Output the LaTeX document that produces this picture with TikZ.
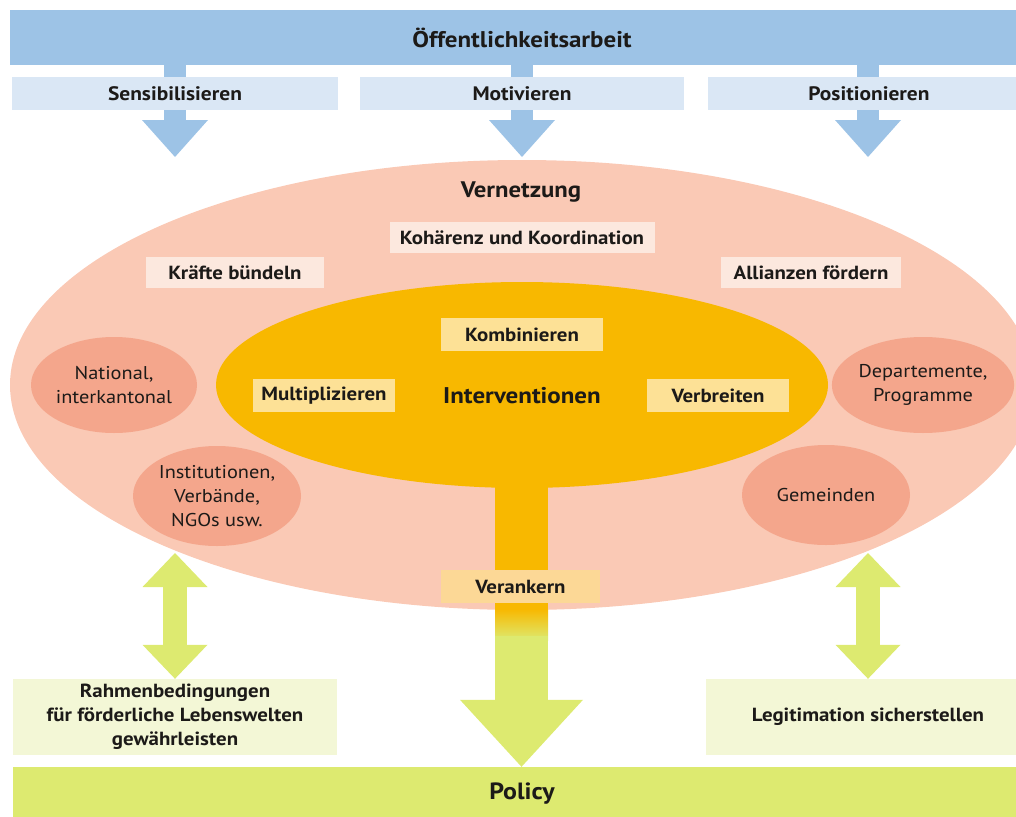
\documentclass[tikz,border=0pt]{standalone}
\usepackage{fontspec}
\setmainfont{PT Sans}[FakeStretch=1.1]
\usetikzlibrary{arrows.meta,shapes.geometric}
\definecolor{blueTop}{HTML}{9DC3E6}
\definecolor{blueLight}{HTML}{DAE7F5}
\definecolor{pinkBig}{HTML}{FAC9B5}
\definecolor{salmon}{HTML}{F4A68C}
\definecolor{pinkBox}{HTML}{FCE8DE}
\definecolor{orangeMain}{HTML}{F8B800}
\definecolor{yellowBox}{HTML}{FDE196}
\definecolor{verBox}{HTML}{FCD896}
\definecolor{greenMain}{HTML}{DDEA70}
\definecolor{greenLight}{HTML}{F3F7D6}
\definecolor{txt}{HTML}{1C1A18}
\tikzset{
  every node/.style={text=txt, inner sep=0pt},
  bar/.style={rectangle, minimum width=#1, minimum height=33pt},
  toplbl/.style={font=\bfseries\fontsize{19.5}{22}\selectfont},
  boxlbl/.style={font=\bfseries\fontsize{19}{22}\selectfont},
  elllbl/.style={ellipse, fill=salmon, align=center, font=\fontsize{18.5}{24}\selectfont},
  bluearrow/.style={draw=blueTop, line width=22pt, -{Triangle[length=37pt, width=66pt, line width=0pt]}},
  greendouble/.style={draw=greenMain, line width=24pt, {Triangle[length=34pt, width=65pt, line width=0pt]}-{Triangle[length=34pt, width=65pt, line width=0pt]}},
  bigarrow/.style={draw=greenMain, line width=53pt, -{Triangle[length=67pt, width=123pt, line width=0pt]}}
}
\begin{document}
\begin{tikzpicture}[x=1pt,y=-1pt]
\useasboundingbox (0,0) rectangle (1016,816);
% top bar
\node[rectangle, fill=blueTop, minimum width=1024pt, minimum height=55pt, font=\bfseries\fontsize{22.7}{26}\selectfont] (top) at (522,37.5) {Öffentlichkeitsarbeit};
% blue arrows
\coordinate (t1) at (175,157);
\coordinate (t2) at (522,157);
\coordinate (t3) at (868,157);
\draw[bluearrow] (top.south -| t1) -- (t1);
\draw[bluearrow] (top.south -| t2) -- (t2);
\draw[bluearrow] (top.south -| t3) -- (t3);
% second row
\node[bar=326pt, fill=blueLight, toplbl] (sens) at (175,93.5) {Sensibilisieren};
\node[bar=324pt, fill=blueLight, toplbl] (moti) at (522,93.5) {Motivieren};
\node[bar=322pt, fill=blueLight, toplbl] (posi) at (869,93.5) {Positionieren};
% big pink ellipse
\node[ellipse, fill=pinkBig, minimum width=1024pt, minimum height=450pt] (vern) at (522,385) {};
\node[font=\bfseries\fontsize{22.5}{26}\selectfont] (vernlbl) at (521,192) {Vernetzung};
\node[bar=265pt, minimum height=31pt, fill=pinkBox, boxlbl] (koh) at (522,237.5) {Kohärenz und Koordination};
\node[bar=178pt, minimum height=31pt, fill=pinkBox, boxlbl] (kraft) at (235,272.5) {Kräfte bündeln};
\node[bar=180pt, minimum height=31pt, fill=pinkBox, boxlbl] (allianz) at (811,272.5) {Allianzen fördern};
% salmon ellipses
\node[elllbl, minimum width=166pt, minimum height=96pt] (nat) at (114,385) {National,\\interkantonal};
\node[elllbl, minimum width=160pt, minimum height=96pt] (dep) at (923,385) {Departemente,\\Programme};
\node[elllbl, minimum width=168pt, minimum height=100pt] (inst) at (217,496) {Institutionen,\\Verbände,\\NGOs usw.};
\node[elllbl, minimum width=168pt, minimum height=100pt] (gem) at (826,495) {Gemeinden};
% main stem
\fill[orangeMain] (495,470) rectangle (548,610);
\shade[top color=orangeMain, bottom color=greenMain] (495,609) rectangle (548,640);
% orange ellipse
\node[ellipse, fill=orangeMain, minimum width=612pt, minimum height=206pt] (interv) at (522,385) {};
\node[font=\bfseries\fontsize{22.7}{26}\selectfont] (intlbl) at (522,396) {Interventionen};
\node[bar=162pt, fill=yellowBox, boxlbl] (komb) at (522,334.5) {Kombinieren};
\node[bar=142pt, fill=yellowBox, boxlbl] (mult) at (324,395.5) {Multiplizieren};
\node[bar=142pt, fill=yellowBox, boxlbl] (verb) at (718,395.5) {Verbreiten};
\node[bar=159pt, fill=verBox, boxlbl] (veran) at (520.5,586.5) {Verankern};
% green part
\node[rectangle, fill=greenMain, minimum width=1018pt, minimum height=53pt, font=\bfseries\fontsize{23.5}{26}\selectfont] (policy) at (522,793.5) {Policy};
\node[rectangle, fill=greenLight, minimum width=324pt, minimum height=76pt, align=center, font=\bfseries\fontsize{19}{24}\selectfont] (rahmen) at (175,717) {Rahmenbedingungen\\für förderliche Lebenswelten\\gewährleisten};
\node[rectangle, fill=greenLight, minimum width=324pt, minimum height=76pt, boxlbl] (legit) at (868,717) {Legitimation sicherstellen};
\coordinate (b0) at (521.5,636);
\draw[bigarrow] (b0) -- (b0 |- policy.north);
\coordinate (g1) at (175,553);
\coordinate (g2) at (868,553);
\draw[greendouble] (g1) -- (g1 |- rahmen.north);
\draw[greendouble] (g2) -- (g2 |- legit.north);
\end{tikzpicture}
\end{document}
